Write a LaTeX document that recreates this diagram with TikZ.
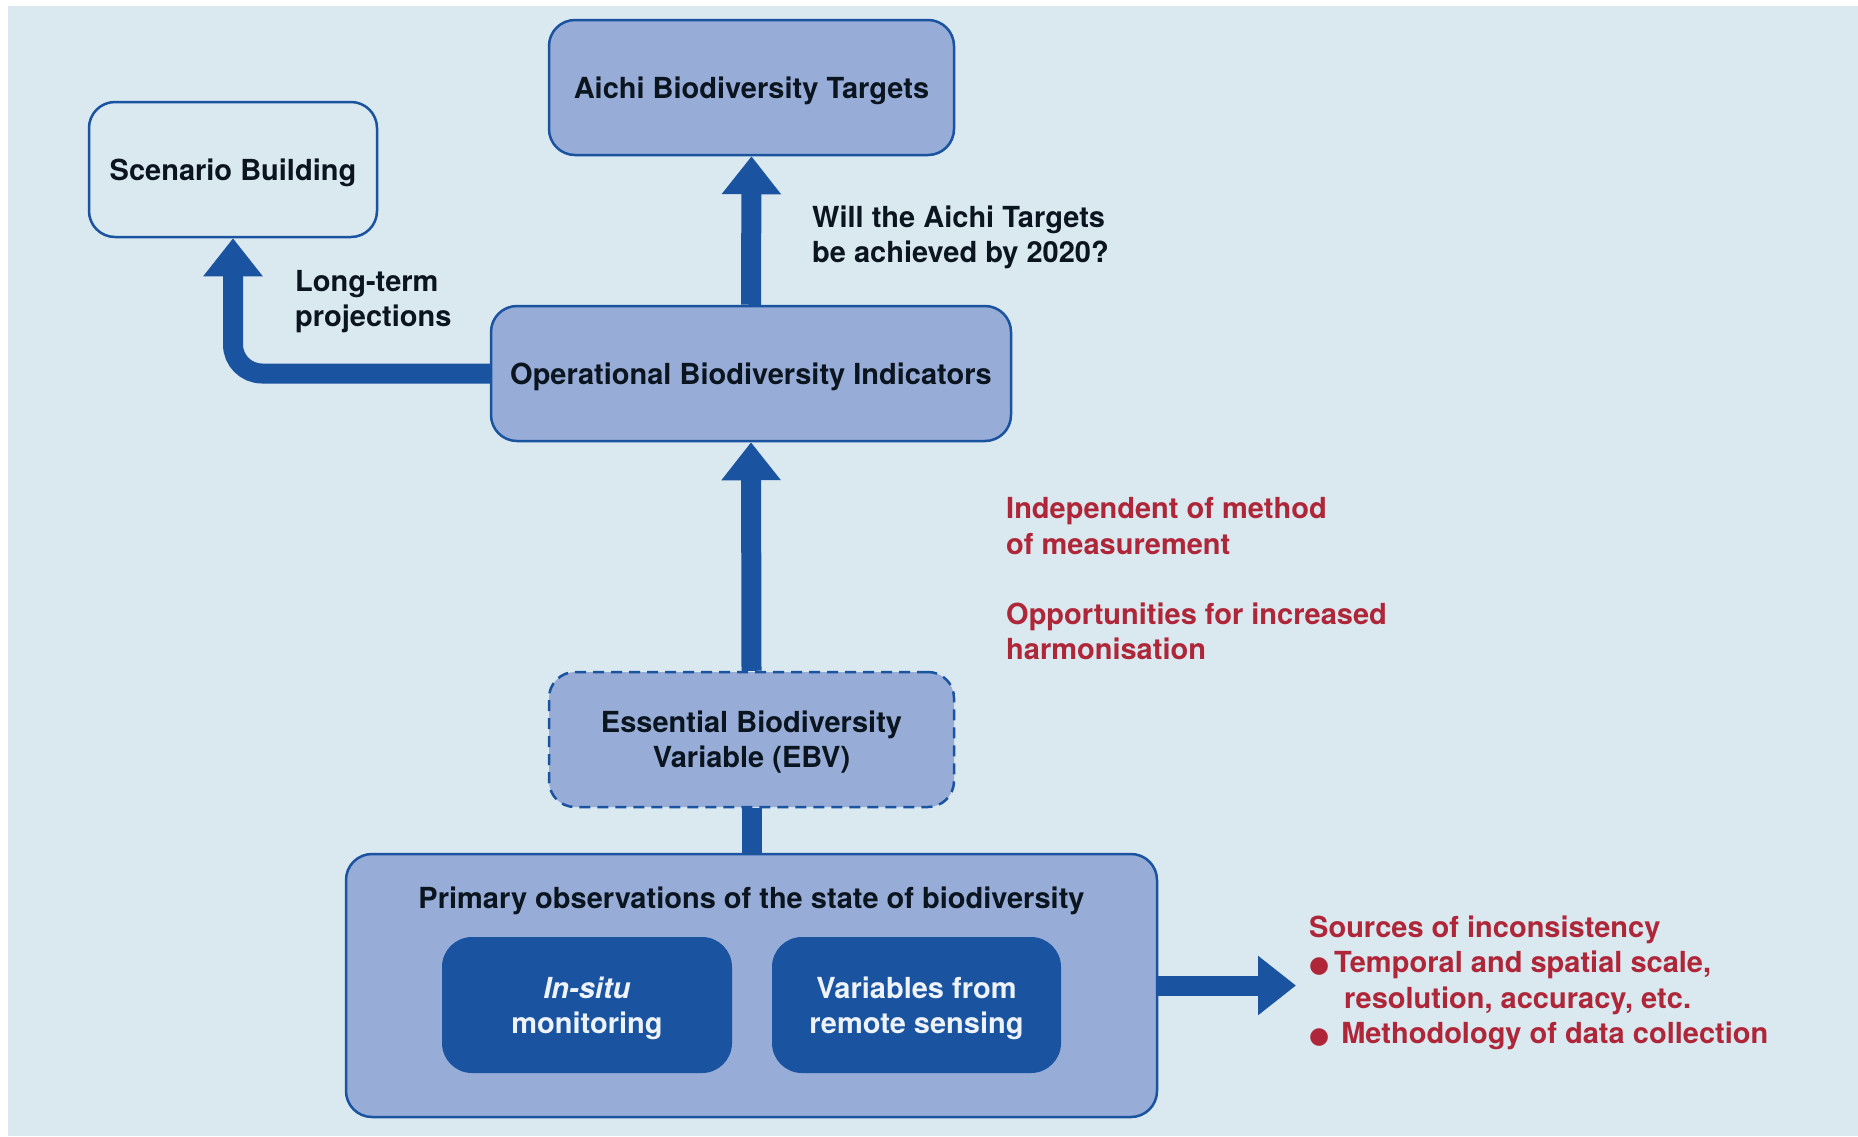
\documentclass[tikz,border=0pt]{standalone}
\usepackage{fontspec}
\setmainfont{TeX Gyre Heros}
\newfontfamily\dejavu{DejaVu Sans}
\usetikzlibrary{arrows.meta}
\definecolor{bgc}{HTML}{DAE8F0}
\definecolor{boxfill}{HTML}{97ACD6}
\definecolor{dblue}{HTML}{1A53A0}
\definecolor{txt}{HTML}{0B1520}
\definecolor{redt}{HTML}{AE2638}
\definecolor{lighttxt}{HTML}{EEF3FA}
\tikzset{
  lbl/.style={font=\bfseries\fontsize{29}{35}\selectfont, text=txt},
  redlbl/.style={font=\bfseries\fontsize{29}{35.3}\selectfont, text=redt, align=left, anchor=west, inner sep=0pt},
  sidelbl/.style={lbl, align=left, anchor=west, inner sep=0pt},
  boxbase/.style={rounded corners=26pt, line width=2.5pt, draw=dblue, align=center, lbl, inner sep=0pt, text depth=0pt},
  filledbox/.style={boxbase, fill=boxfill},
  openbox/.style={boxbase, fill=bgc},
  dashbox/.style={filledbox, dash pattern=on 11pt off 7pt},
  innerbox/.style={rounded corners=30pt, fill=dblue, align=center, inner sep=0pt, text depth=0pt,
    font=\bfseries\fontsize{29}{35}\selectfont, text=lighttxt},
  bigarrow/.style={draw=dblue, line width=20pt, -{Triangle[width=57pt,length=38pt]}},
  plainconn/.style={draw=dblue, line width=20pt}
}
\begin{document}
\begin{tikzpicture}[x=1pt,y=-1pt]
\useasboundingbox (0,0) rectangle (1858,1136);
\fill[white] (0,0) rectangle (1858,1136);
\fill[bgc] (8,6) rectangle (1858,1136);

% boxes
\node[filledbox, minimum width=405pt, minimum height=135pt] (aichi) at (751.5,87.5) {Aichi Biodiversity Targets};
\node[openbox, minimum width=288pt, minimum height=135pt] (scen) at (233,169.5) {Scenario Building};
\node[filledbox, minimum width=520pt, minimum height=135pt] (obi) at (751,373.5) {Operational Biodiversity Indicators};
\node[dashbox, minimum width=405pt, minimum height=135pt] (ebv) at (751.5,739.5) {Essential Biodiversity\\Variable (EBV)};
\node[filledbox, minimum width=811pt, minimum height=263pt] (prim) at (751.5,985.5) {};
\node[lbl, inner sep=0pt] (primlbl) at (751.5,901) {Primary observations of the state of biodiversity};
\node[innerbox, minimum width=290pt, minimum height=136pt] (insitu) at (587,1005) {\textit{In-situ}\\monitoring};
\node[innerbox, minimum width=289pt, minimum height=136pt] (remote) at (916.5,1005) {Variables from\\remote sensing};

% connectors
\draw[bigarrow] (obi.north) -- (aichi.south);
\draw[bigarrow] (ebv.north) -- (obi.south);
\draw[plainconn] (prim.north) -- (ebv.south);
\draw[bigarrow, rounded corners=29pt] (obi.west) -| (scen.south);
\coordinate (rtip) at (1296,985.5);
\draw[bigarrow] (prim.east) -- (rtip);

% side labels
\node[sidelbl] (longterm) at (295,302) {Long-term\\projections};
\node[sidelbl] (will) at (812,237) {Will the Aichi Targets\\be achieved by 2020?};
\node[redlbl] (indep) at (1006,526) {Independent of method\\of measurement};
\node[redlbl] (oppo) at (1006,631) {Opportunities for increased\\harmonisation};
\node[redlbl] (sources) at (1309,983) {Sources of inconsistency\\
{\dejavu\fontsize{23}{35}\selectfont ●}\,Temporal and spatial scale,\\
\hspace*{35pt}resolution, accuracy, etc.\\
{\dejavu\fontsize{23}{35}\selectfont ●}\hspace{12pt}Methodology of data collection};
\end{tikzpicture}
\end{document}
